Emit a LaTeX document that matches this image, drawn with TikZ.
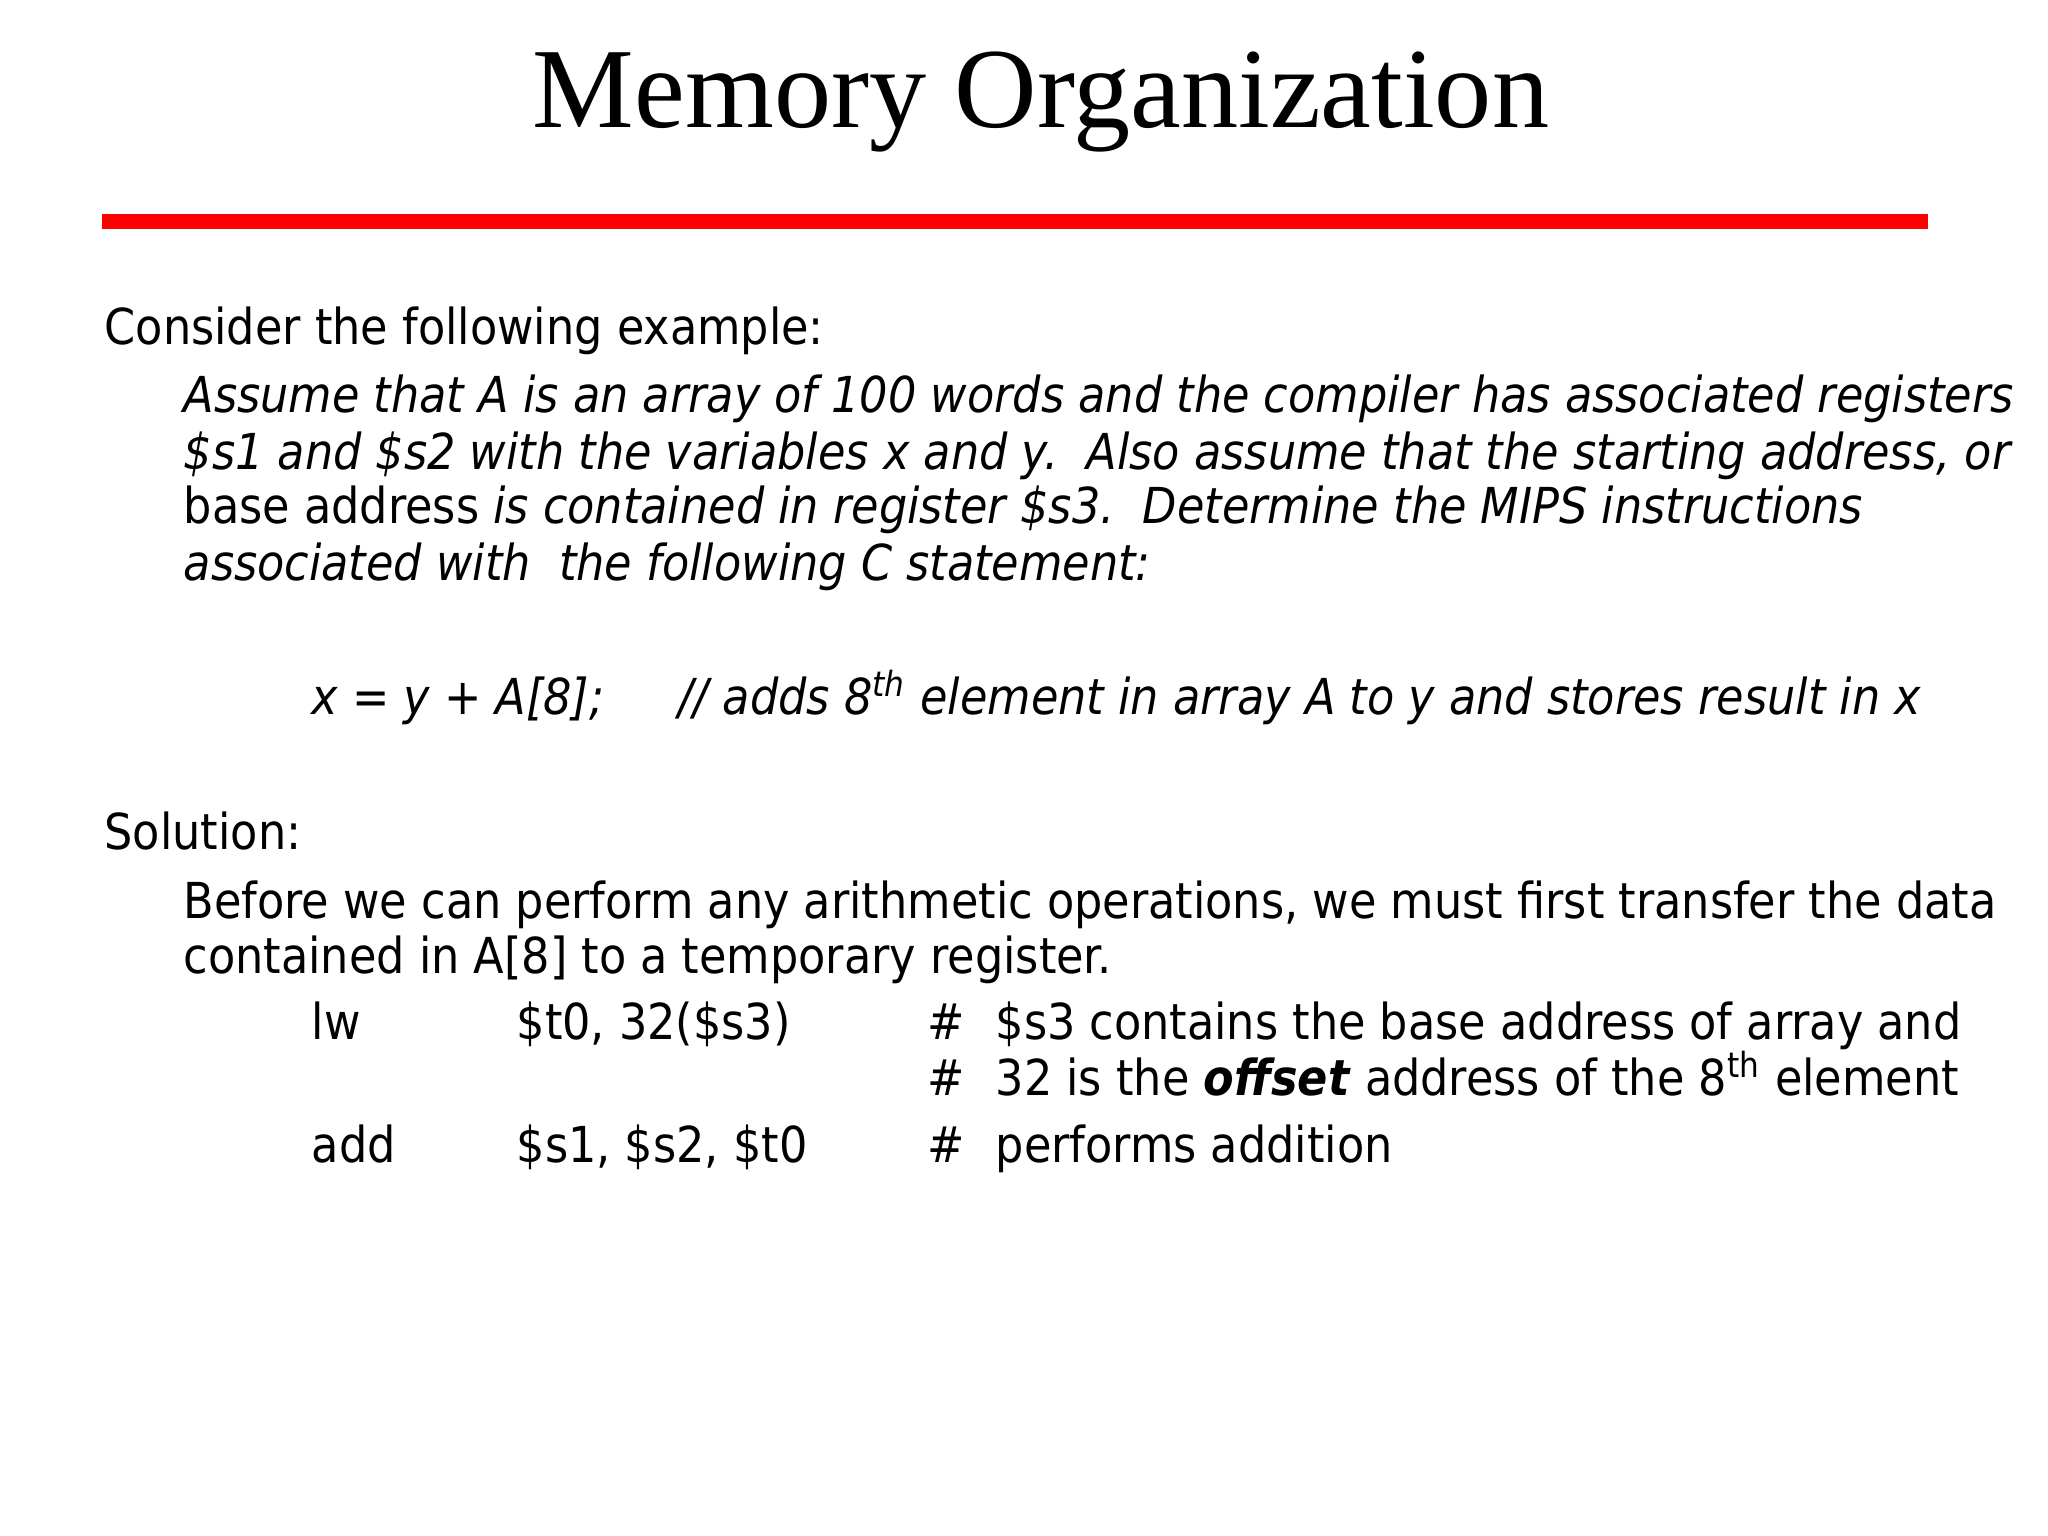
\documentclass[tikz,border=0pt]{standalone}
\usepackage{fontspec}
\setmainfont{DejaVu Sans Condensed}
\newfontfamily\titlefont{Liberation Serif}
\begin{document}
\begin{tikzpicture}[x=1cm,y=-1cm,
  txt/.style={anchor=west,inner sep=0pt,font=\fontsize{14.1}{17}\selectfont,text height=1.55ex,text depth=.35ex}]
\useasboundingbox (0,0) rectangle (20.48,15.36);
\node[font=\titlefont\fontsize{32.5}{38}\selectfont] (title) at (10.41,1.02) {Memory Organization};
\coordinate (la) at (1.02,2.22); \coordinate (lb) at (19.28,2.22);
\draw[red,line width=0.15cm] (la) -- (lb);
\begin{scope}[yshift=-0.07cm]
\node[txt] (l1) at (1.04,3.26) {Consider the following example:};
\node[txt] (l2) at (1.83,3.94) {\itshape Assume that A is an array of 100 words and the compiler has associated registers};
\node[txt] (l3) at (1.83,4.51) {\itshape \$s1 and \$s2 with the variables x and y.\ \ Also assume that the starting address, or};
\node[txt] (l4) at (1.83,5.05) {base address \itshape is contained in register \$s3.\ \ Determine the MIPS instructions};
\node[txt] (l5) at (1.83,5.62) {\itshape associated with\ \ the following C statement:};
\node[txt] (c1) at (3.11,6.96) {\itshape x = y + A[8];};
\node[txt] (c2) at (6.78,6.96) {\itshape // adds 8\textsuperscript{th} element in array A to y and stores result in x};
\node[txt] (s1) at (1.04,8.31) {Solution:};
\node[txt] (s2) at (1.83,9.00) {Before we can perform any arithmetic operations, we must first transfer the data};
\node[txt] (s3) at (1.83,9.55) {contained in A[8] to a temporary register.};
\node[txt] (i1) at (3.11,10.21) {lw};
\node[txt] (o1) at (5.16,10.21) {\$t0, 32(\$s3)};
\node[txt] (h1) at (9.27,10.21) {\#};
\node[txt] (m1) at (9.95,10.21) {\$s3 contains the base address of array and};
\node[txt] (h2) at (9.27,10.77) {\#};
\node[txt] (m2) at (9.95,10.77) {32 is the \textbf{\itshape offset} address of the 8\textsuperscript{th} element};
\node[txt] (i3) at (3.11,11.44) {add};
\node[txt] (o3) at (5.16,11.44) {\$s1, \$s2, \$t0};
\node[txt] (h3) at (9.27,11.44) {\#};
\node[txt] (m3) at (9.95,11.44) {performs addition};
\end{scope}
\end{tikzpicture}
\end{document}
